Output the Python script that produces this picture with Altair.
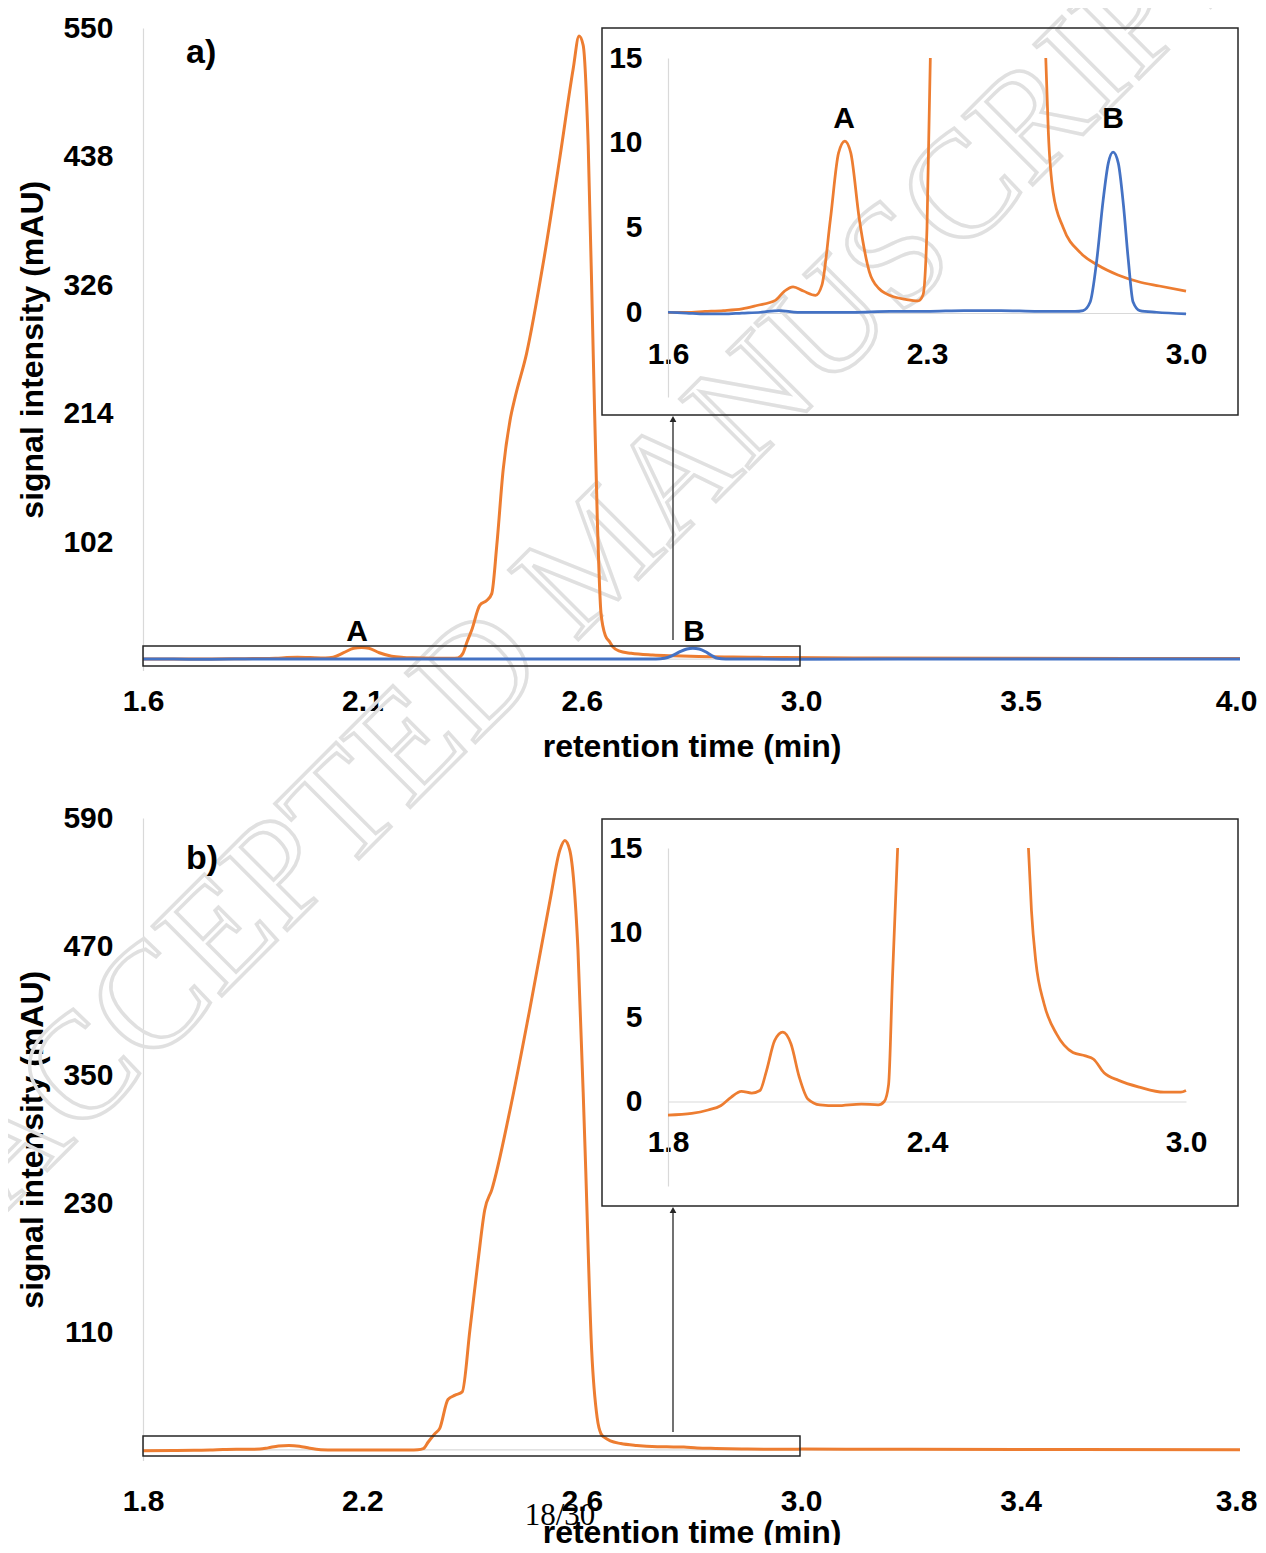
import altair as alt
import pandas as pd

# ---------------- data ----------------
# panel a) orange trace: retention time (min) / signal (mAU)
a_orange_t = [1.60, 1.65, 1.70, 1.75, 1.80, 1.84, 1.89, 1.915, 1.938, 1.966,
              1.999, 2.016, 2.039, 2.061, 2.078, 2.094, 2.117, 2.144, 2.170, 2.189,
              2.245, 2.276, 2.289, 2.300, 2.309, 2.319, 2.337, 2.352, 2.363, 2.374,
              2.388, 2.403, 2.414, 2.439, 2.476, 2.512, 2.541, 2.554, 2.563, 2.574,
              2.585, 2.594, 2.602, 2.612, 2.621, 2.628, 2.641, 2.668, 2.715, 2.760,
              2.816, 2.872, 2.928, 3.000, 3.20, 3.50, 4.00]
a_orange_v = [0.0, 0.0, 0.05, 0.1, 0.2, 0.4, 0.7, 1.25, 1.5, 1.25,
              1.0, 1.6, 5.5, 9.4, 10.1, 9.4, 5.5, 2.4, 1.4, 1.1,
              0.75, 0.67, 1.0, 5.0, 15.0, 25, 47, 51, 57, 99,
              165, 208, 228, 266, 346, 437, 514, 543, 535, 448,
              266, 121, 40, 20, 15.0, 10.6, 7.05, 5.0, 3.5, 2.8,
              2.2, 1.8, 1.55, 1.25, 0.9, 0.6, 0.4]
# panel a) blue trace
a_blue_t = [1.60, 1.65, 1.70, 1.75, 1.80, 1.85, 1.90, 1.95, 2.00, 2.10,
            2.20, 2.30, 2.40, 2.50, 2.60, 2.70, 2.722, 2.741, 2.759, 2.776,
            2.790, 2.803, 2.817, 2.831, 2.844, 2.857, 2.875, 2.92, 3.00, 3.50, 4.00]
a_blue_v = [0.0, -0.05, -0.1, -0.1, -0.05, 0.0, 0.1, 0.0, 0.0, 0.0,
            0.05, 0.05, 0.1, 0.1, 0.05, 0.05, 0.1, 0.6, 3.1, 6.6,
            8.8, 9.45, 8.8, 6.3, 3.1, 0.6, 0.1, 0.0, -0.1, 0.0, 0.0]
# panel b) orange trace
b_orange_t = [1.80, 1.855, 1.893, 1.922, 1.946, 1.970, 1.994, 2.013, 2.028, 2.047,
              2.066, 2.085, 2.104, 2.124, 2.152, 2.191, 2.248, 2.287, 2.301, 2.311,
              2.320, 2.332, 2.341, 2.356, 2.369, 2.382, 2.396, 2.411, 2.423, 2.436,
              2.469, 2.505, 2.542, 2.560, 2.569, 2.578, 2.593, 2.606, 2.618, 2.628,
              2.635, 2.642, 2.652, 2.671, 2.700, 2.738, 2.767, 2.786, 2.810, 2.844,
              2.892, 2.949, 2.988, 3.000, 3.20, 3.50, 3.80]
b_orange_v = [-0.8, -0.7, -0.5, -0.25, 0.25, 0.6, 0.5, 0.65, 1.8, 3.6,
              4.1, 3.4, 1.45, 0.15, -0.2, -0.25, -0.15, -0.2, 0.0, 1.0,
              7.3, 15.0, 20, 47, 51, 54, 112, 177, 224, 243,
              317, 411, 513, 560, 569, 560, 467, 280, 93, 30,
              15.0, 11.3, 8.3, 5.8, 4.0, 2.9, 2.7, 2.5, 1.7, 1.25,
              0.85, 0.55, 0.55, 0.65, 0.4, 0.2, 0.1]

# tick labels
a_xticks = [1.6, 2.08, 2.56, 3.04, 3.52, 4.0]
a_yticks = [102, 214, 326, 438, 550]
b_xticks = [1.8, 2.2, 2.6, 3.0, 3.4, 3.8]
b_yticks = [110, 230, 350, 470, 590]
ia_xticks = [1.6, 2.3, 3.0]
ib_xticks = [1.8, 2.4, 3.0]
inset_yticks = [0, 5, 10, 15]

# text
y_title = "signal intensity (mAU)"
x_title = "retention time (min)"
watermark = "ACCEPTED MANUSCRIPT"
page_no = "18/30"

# ---------------- styling ----------------
W, H = 1250, 1537
FONT = "Liberation Sans"
SERIF = "Liberation Serif"
ORANGE = "#ED7D31"
BLUE = "#4472C4"
GRAY = "#d9d9d9"
DARK = "#262626"


def scale(domain, rng):
    return alt.Scale(domain=domain, range=rng, nice=False, zero=False)


SC = {
    "a_x": scale([1.6, 4.0], [135, 1232]),
    "a_y": scale([-10, 550], [662.5, 20]),
    "b_x": scale([1.8, 3.8], [135, 1232]),
    "b_y": scale([-10, 590], [1452.5, 810]),
    "ia_x": scale([1.6, 3.0], [660, 1178]),
    "ia_y": scale([-5, 15], [389, 50]),
    "ib_x": scale([1.8, 3.0], [660, 1178]),
    "ib_y": scale([-5, 15], [1178, 840]),
}

LBL = dict(labelFont=FONT, labelFontSize=30, labelFontWeight="bold", labelColor="#000000",
           ticks=False, tickSize=0, grid=False, labelFlush=False, labelOverlap=False,
           domainColor=GRAY, domainWidth=1.2)
TTL = dict(titleFont=FONT, titleFontSize=32, titleFontWeight="bold", titleColor="#000000")
# keep the right-most main tick label inside the page
LAST_SHIFT = {"condition": {"test": "datum.value >= 3.79", "value": -4}, "value": 0}


def x_axis(values, axis_y, pad, title=None, title_pad=0, domain=False):
    kw = dict(LBL, values=values, format=".1f", orient="bottom", offset=axis_y - H,
              labelPadding=pad, domain=domain)
    if title:
        kw.update(TTL, title=title, titlePadding=title_pad, labelOffset=LAST_SHIFT)
    else:
        kw["title"] = None
    return alt.Axis(**kw)


def y_axis(values, axis_x, pad, title=None, title_pad=0):
    kw = dict(LBL, values=values, format="d", orient="left", offset=-axis_x,
              labelPadding=pad, domain=True)
    if title:
        kw.update(TTL, title=title, titlePadding=title_pad, titleAngle=270,
                  titleBaseline="bottom", titleAlign="center")
    else:
        kw["title"] = None
    return alt.Axis(**kw)


def line(df, xs, ys, color, width, xaxis=None, yaxis=None, detail=False):
    enc = dict(x=alt.X("t:Q", scale=xs, axis=xaxis), y=alt.Y("v:Q", scale=ys, axis=yaxis))
    if detail:
        enc["detail"] = alt.Detail("seg:N")
    return alt.Chart(df).mark_line(color=color, strokeWidth=width, interpolate="monotone").encode(**enc)


def inset_df(t, v, split):
    df = pd.DataFrame({"t": t, "v": v})
    df = df[(df.v <= 15) & (df.t <= 3.0)].copy()
    df["seg"] = (df.t > split).astype(int).astype(str)
    return df


def zero_rule(xs, ys, x0, x1):
    df = pd.DataFrame({"x0": [x0], "x1": [x1], "y": [0.0]})
    return alt.Chart(df).mark_rule(color=GRAY, strokeWidth=1.2).encode(
        x=alt.X("x0:Q", scale=xs, axis=None), x2="x1:Q",
        y=alt.Y("y:Q", scale=ys, axis=None))


def label(text, x, y, size=30, font=FONT, weight="bold", align="center", **kw):
    return alt.Chart(pd.DataFrame({"txt": [text]})).mark_text(
        font=font, fontSize=size, fontWeight=weight, align=align, baseline="alphabetic",
        color="#000000", **kw).encode(x=alt.value(x), y=alt.value(y), text="txt:N")


def frame(x1, x2, y1, y2):
    return alt.Chart(pd.DataFrame({"f": [0]})).mark_rect(
        fill="#ffffff", fillOpacity=0, stroke=DARK, strokeWidth=1.5).encode(
        x=alt.value(x1), x2=alt.value(x2), y=alt.value(y1), y2=alt.value(y2))


def arrow(x, y_from, y_to):
    d = pd.DataFrame({"f": [0]})
    shaft = alt.Chart(d).mark_rule(color=DARK, strokeWidth=1.3).encode(
        x=alt.value(x), y=alt.value(y_from), y2=alt.value(y_to + 4))
    head = alt.Chart(d).mark_point(shape="triangle-up", filled=True, size=45, color=DARK,
                                    opacity=1).encode(x=alt.value(x), y=alt.value(y_to + 4))
    return [shaft, head]


df_a_or = pd.DataFrame({"t": a_orange_t, "v": a_orange_v})
df_a_bl = pd.DataFrame({"t": a_blue_t, "v": a_blue_v})
df_b_or = pd.DataFrame({"t": b_orange_t, "v": b_orange_v})

layers = []

# watermark (behind everything)
layers.append(alt.Chart(pd.DataFrame({"txt": [watermark]})).mark_text(
    font=SERIF, fontSize=150, angle=315.0, align="center", baseline="middle",
    fillOpacity=0, stroke="#e0e0e0", strokeWidth=3.5).encode(
    x=alt.value(590), y=alt.value(548), text="txt:N"))

# ---------- panel a ----------
layers.append(zero_rule(SC["a_x"], SC["a_y"], 1.6, 4.0))
layers.append(line(df_a_or, SC["a_x"], SC["a_y"], ORANGE, 3,
                   xaxis=x_axis(a_xticks, 662.5, 15.5, x_title, 15),
                   yaxis=y_axis(a_yticks, 135, 30, y_title, 13)))
layers.append(line(df_a_bl, SC["a_x"], SC["a_y"], BLUE, 3))
layers.append(frame(135, 792, 638, 658))
layers += arrow(665, 632, 407)
layers.append(label("a)", 178, 55, size=34, align="left"))
layers.append(label("A", 349, 633))
layers.append(label("B", 686, 633))

# inset a
layers.append(frame(594, 1230, 20, 407))
layers.append(line(inset_df(a_orange_t, a_orange_v, 2.45), SC["ia_x"], SC["ia_y"], ORANGE, 2.75,
                   xaxis=x_axis(ia_xticks, 305, 26, domain=True),
                   yaxis=y_axis(inset_yticks, 660, 26), detail=True))
layers.append(line(inset_df(a_blue_t, a_blue_v, 9.0), SC["ia_x"], SC["ia_y"], BLUE, 2.75, detail=True))
layers.append(label("A", 836, 120))
layers.append(label("B", 1105, 120))

# ---------- panel b ----------
layers.append(zero_rule(SC["b_x"], SC["b_y"], 1.8, 3.8))
layers.append(line(df_b_or, SC["b_x"], SC["b_y"], ORANGE, 3,
                   xaxis=x_axis(b_xticks, 1452.5, 25.5, x_title, 1),
                   yaxis=y_axis(b_yticks, 135, 30, y_title, 13)))
layers.append(frame(135, 792, 1428, 1448))
layers += arrow(665, 1424, 1198)
layers.append(label("b)", 178, 861, size=34, align="left"))

# inset b
layers.append(frame(594, 1230, 811, 1198))
layers.append(line(inset_df(b_orange_t, b_orange_v, 2.45), SC["ib_x"], SC["ib_y"], ORANGE, 2.75,
                   xaxis=x_axis(ib_xticks, 1093.5, 25.5, domain=True),
                   yaxis=y_axis(inset_yticks, 660, 26), detail=True))

# page number
layers.append(label(page_no, 552, 1517, size=31, font=SERIF, weight="normal"))

chart = alt.layer(*layers).resolve_scale(x="independent", y="independent").properties(
    width=W, height=H, padding=0, background="white",
    autosize=alt.AutoSizeParams(type="none"),
).configure_view(stroke="transparent")

chart.save("out.html", embed_options={"renderer": "svg", "actions": False})
